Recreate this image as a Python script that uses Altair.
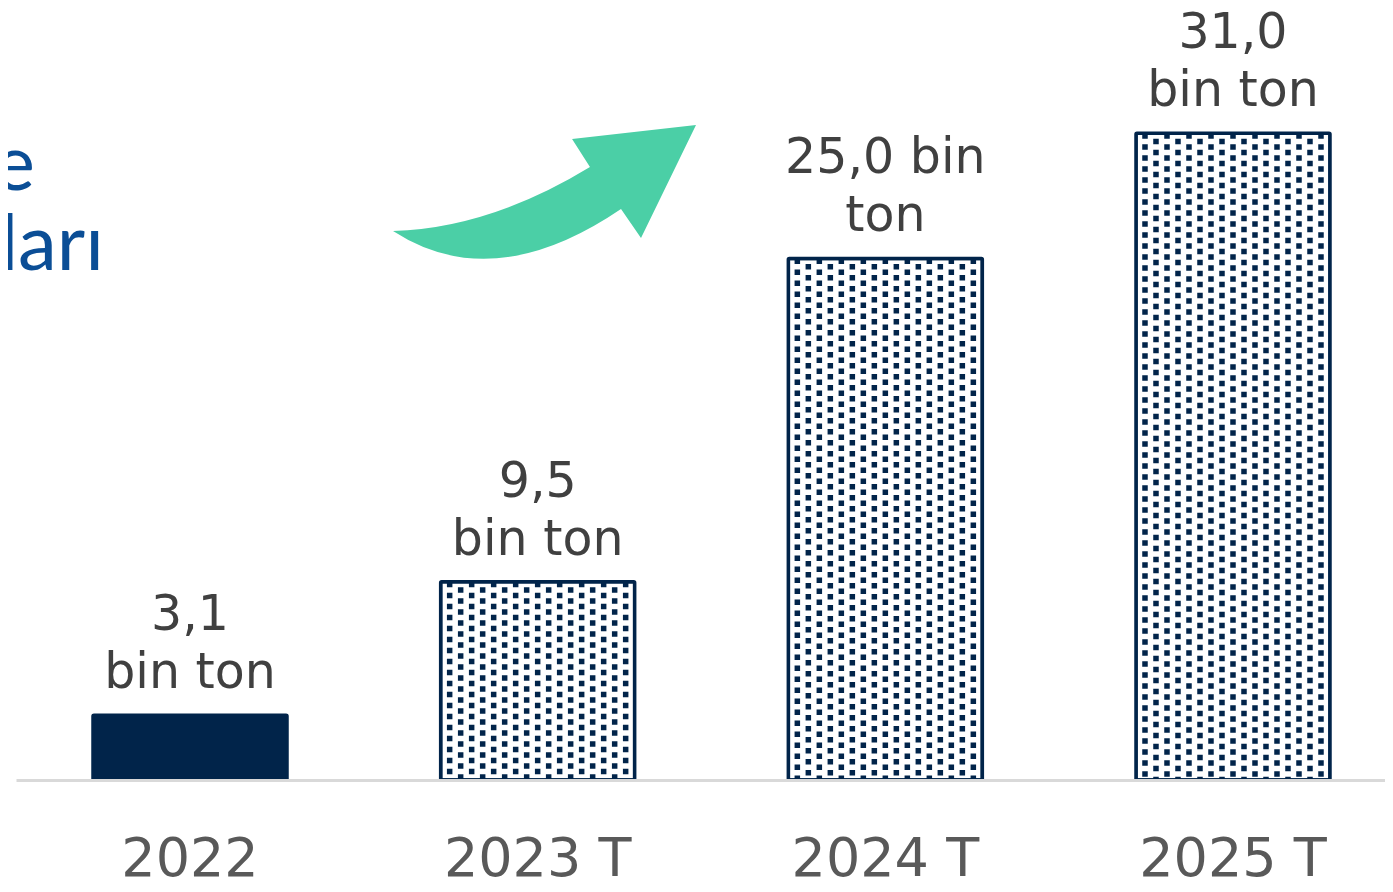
import altair as alt
import pandas as pd

# ---- data ----
years = ["2022", "2023 T", "2024 T", "2025 T"]
values = [3.1, 9.5, 25.0, 31.0]
labels = ["3,1\nbin ton", "9,5\nbin ton", "25,0 bin\nton", "31,0\nbin ton"]
kinds = ["actual", "forecast", "forecast", "forecast"]
heading_parts = ["e", "ları"]

NAVY = "#01244A"
GREEN = "#4BCFA6"
BLUE = "#0B4E96"

df = pd.DataFrame({"year": years, "value": values, "label": labels, "kind": kinds})

x = alt.X(
    "year:N",
    sort=years,
    scale=alt.Scale(range=[0, 1391], paddingInner=0.442, paddingOuter=0.2215),
    axis=alt.Axis(
        title=None, labelAngle=0, labelFont="DejaVu Sans", labelFontSize=54,
        labelColor="#595959", labelPadding=52, labelLimit=0, ticks=False, tickSize=0,
        domainColor="#D9D9D9", domainWidth=3, grid=False, zindex=1,
    ),
)
y = alt.Y("value:Q", scale=alt.Scale(domain=[0, 37], nice=False, zero=True), axis=None)

base = alt.Chart(df)

bars = base.mark_bar(stroke=NAVY, strokeWidth=3.5, cornerRadius=1).encode(
    x=x,
    y=y,
    fill=alt.condition("datum.kind == 'actual'", alt.value(NAVY), alt.value("white")),
)

# dotted fill pattern for forecast bars (columns of dashes)
dots = []
for k in range(17):
    dots.append(
        base.transform_filter("datum.kind == 'forecast'")
        .mark_rule(
            color=NAVY, strokeWidth=5.5, strokeDash=[5.5, 5.5],
            strokeDashOffset=5.5 * (k % 2), xOffset=(k - 8) * 11, strokeCap="butt",
        )
        .encode(x=x, y=y, y2=alt.datum(0))
    )

text = base.mark_text(
    font="DejaVu Sans", fontSize=49, color="#404040", lineBreak="\n",
    lineHeight=58, baseline="alphabetic", dy=-85, align="center",
).encode(x=x, y=y, text="label:N")

ARROW = ("M -1 0.261 Q -0.360 0.241 0.300 -0.162 L 0.182 -0.347 L 1 -0.439 "
         "L 0.637 0.307 L 0.505 0.116 Q -0.340 0.690 -1 0.261 Z")
arrow = alt.Chart(pd.DataFrame({"a": [0]})).mark_point(
    shape=ARROW, filled=True, size=91809, color=GREEN, opacity=1, strokeWidth=0,
).encode(x=alt.value(528.5), y=alt.value(183.5))

head1 = alt.Chart(pd.DataFrame({"t": [heading_parts[0]]})).mark_text(
    font="Lato", fontSize=78, color=BLUE, align="right", baseline="alphabetic",
).encode(x=alt.value(19), y=alt.value(182), text="t:N")
head2 = alt.Chart(pd.DataFrame({"t": [heading_parts[1]]})).mark_text(
    font="Lato", fontSize=78, color=BLUE, align="right", baseline="alphabetic",
).encode(x=alt.value(88), y=alt.value(262), text="t:N")

chart = alt.layer(bars, *dots, text, arrow, head1, head2).properties(
    width=1369,
    height=772,
    autosize=alt.AutoSizeParams(type="none"),
    padding={"left": 8, "top": 0, "right": 0, "bottom": 100},
    background="white",
).configure_view(stroke=None)

chart.save("out.html", embed_options={"renderer": "svg", "actions": False})
